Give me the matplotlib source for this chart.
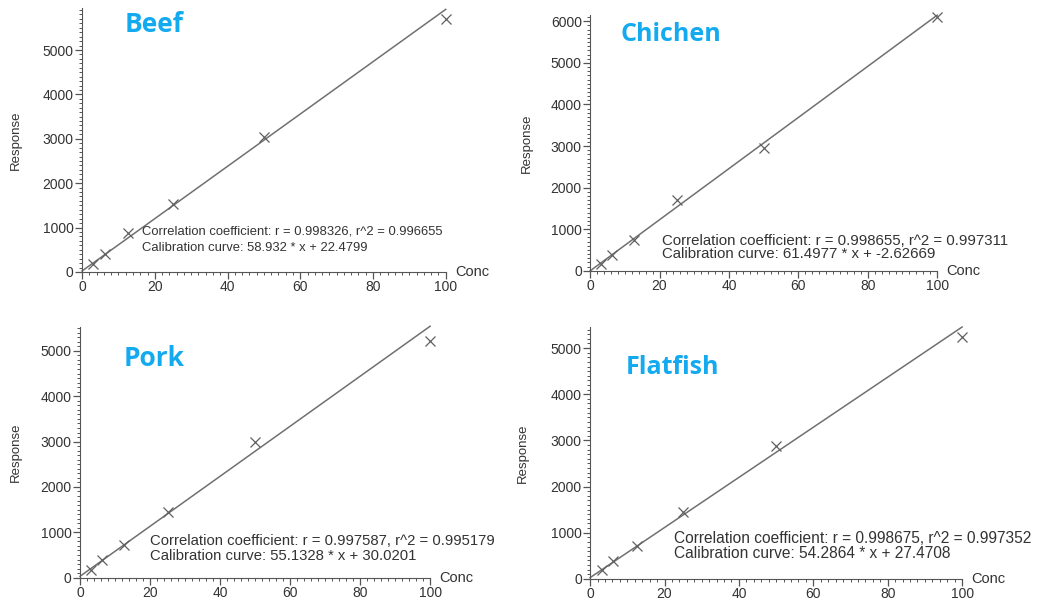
import matplotlib.pyplot as plt
import numpy as np
from matplotlib.ticker import MultipleLocator

plt.rcParams['font.family'] = ['Liberation Sans', 'DejaVu Sans']

# data
conc = [3.125, 6.25, 12.5, 25, 50, 100]
names = ["Beef", "Chichen", "Pork", "Flatfish"]
beef = [180, 400, 870, 1530, 3030, 5700]
chicken = [170, 370, 730, 1700, 2950, 6100]
pork = [180, 380, 720, 1450, 3000, 5220]
flatfish = [200, 380, 720, 1450, 2870, 5230]
responses = [beef, chicken, pork, flatfish]
slopes = [58.932, 61.4977, 55.1328, 54.2864]
intercepts = [22.4799, -2.62669, 30.0201, 27.4708]
r_vals = ["0.998326", "0.998655", "0.997587", "0.998675"]
r2_vals = ["0.996655", "0.997311", "0.995179", "0.997352"]
ymax = [5950, 6150, 5530, 5460]

# layout (figure fractions)
rects = [[0.079, 0.549, 0.350, 0.438],
         [0.568, 0.551, 0.334, 0.424],
         [0.077, 0.042, 0.337, 0.416],
         [0.568, 0.040, 0.358, 0.418]]
title_pos = [(0.120, 0.960), (0.597, 0.942), (0.119, 0.405), (0.602, 0.390)]
note_pos = [(0.137, 0.602), (0.637, 0.590), (0.144, 0.090), (0.649, 0.094)]
note_size = [9.4, 10.8, 10.7, 11.2]
note_spacing = [1.45, 0.95, 1.1, 1.0]
title_size = [19, 18, 19, 18]

fig = plt.figure(figsize=(10.39, 6.03), dpi=100)

for i in range(4):
    ax = fig.add_axes(rects[i])
    ax.plot([0, 100], [intercepts[i], slopes[i]*100 + intercepts[i]],
            color="#707070", linewidth=1.1, clip_on=False)
    ax.plot(conc, responses[i], linestyle="none", marker="x", markersize=7,
            markeredgewidth=0.9, color="#606060", clip_on=False)
    ax.set_xlim(0, 100)
    ax.set_ylim(0, ymax[i])
    ax.spines["top"].set_visible(False)
    ax.spines["right"].set_visible(False)
    ax.spines["left"].set_color("#555555")
    ax.spines["bottom"].set_color("#555555")
    ax.xaxis.set_major_locator(MultipleLocator(20))
    ax.xaxis.set_minor_locator(MultipleLocator(2))
    ax.yaxis.set_major_locator(MultipleLocator(1000))
    ax.yaxis.set_minor_locator(MultipleLocator(100))
    ax.tick_params(which="major", length=5, width=0.9, color="#555555",
                   labelsize=10, labelcolor="#333333", pad=1)
    ax.tick_params(which="minor", length=2.5, width=0.7, color="#555555")
    ax.set_ylabel("Response", fontsize=9.5, color="#333333")
    ax.yaxis.set_label_coords(-0.165, 0.5)
    ax.text(1.025, 0.0, "Conc", transform=ax.transAxes, fontsize=10.5,
            color="#333333", ha="left", va="center")
    fig.text(title_pos[i][0], title_pos[i][1], names[i], fontsize=title_size[i],
             fontweight="bold", color="#14aaf0", family=["Open Sans", "DejaVu Sans"],
             ha="left", va="center")
    fig.text(note_pos[i][0], note_pos[i][1],
             f"Correlation coefficient: r = {r_vals[i]}, r^2 = {r2_vals[i]}\n"
             f"Calibration curve: {slopes[i]} * x + {intercepts[i]}",
             fontsize=note_size[i], color="#333333", ha="left", va="center",
             linespacing=note_spacing[i])

plt.savefig("out.png", dpi=100)
